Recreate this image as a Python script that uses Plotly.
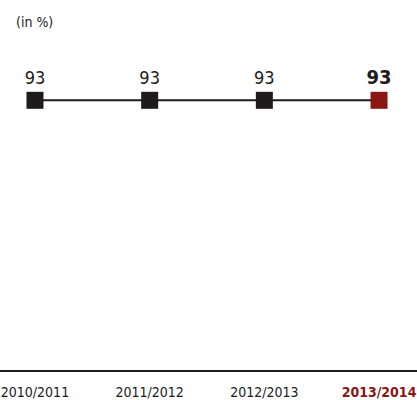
import plotly.graph_objects as go

seasons = ["2010/2011", "2011/2012", "2012/2013", "2013/2014"]
values = [93, 93, 93, 93]

dark = "#1d1b1c"
red = "#8b1713"
font_family = "DejaVu Sans Condensed, Roboto, sans-serif"

x = list(range(len(seasons)))
last = len(seasons) - 1
marker_colors = [red if i == last else dark for i in x]
labels = [f"<b>{v}</b>" if i == last else str(v) for i, v in enumerate(values)]
ticktext = [f"<b><span style='color:{red}'>{s}</span></b>" if i == last else s
            for i, s in enumerate(seasons)]

fig = go.Figure()
fig.add_scatter(
    x=x, y=values, mode="lines+markers+text",
    line=dict(color=dark, width=2),
    marker=dict(symbol="square", size=17, color=marker_colors),
    text=labels, textposition="top center",
    textfont=dict(family=font_family, size=[18, 18, 18, 20], color=dark),
    cliponaxis=False, hoverinfo="skip",
)
fig.add_annotation(
    text="(in %)", xref="paper", yref="paper", x=34 / 417, y=1 + (80 - 22) / 290,
    xanchor="center", yanchor="middle", showarrow=False,
    font=dict(family=font_family, size=14, color=dark),
)
fig.update_xaxes(
    range=[-0.305, 3.331], tickvals=x, ticktext=ticktext, showgrid=False,
    zeroline=False, showline=True, linecolor=dark, linewidth=2,
    ticks="outside", ticklen=8, tickcolor="rgba(0,0,0,0)",
    tickfont=dict(family=font_family, size=14, color=dark), fixedrange=True,
    automargin=False,
)
fig.update_yaxes(range=[0, 100], visible=False, fixedrange=True, automargin=False)
fig.update_layout(
    width=417, height=400, margin=dict(l=0, r=0, t=80, b=30),
    plot_bgcolor="white", paper_bgcolor="white", showlegend=False,
)
# drop the default page margin so the figure sits at the window's corner
fig.write_html("out.html", post_script="document.body.style.margin = '0';",
               config={"displayModeBar": False})
